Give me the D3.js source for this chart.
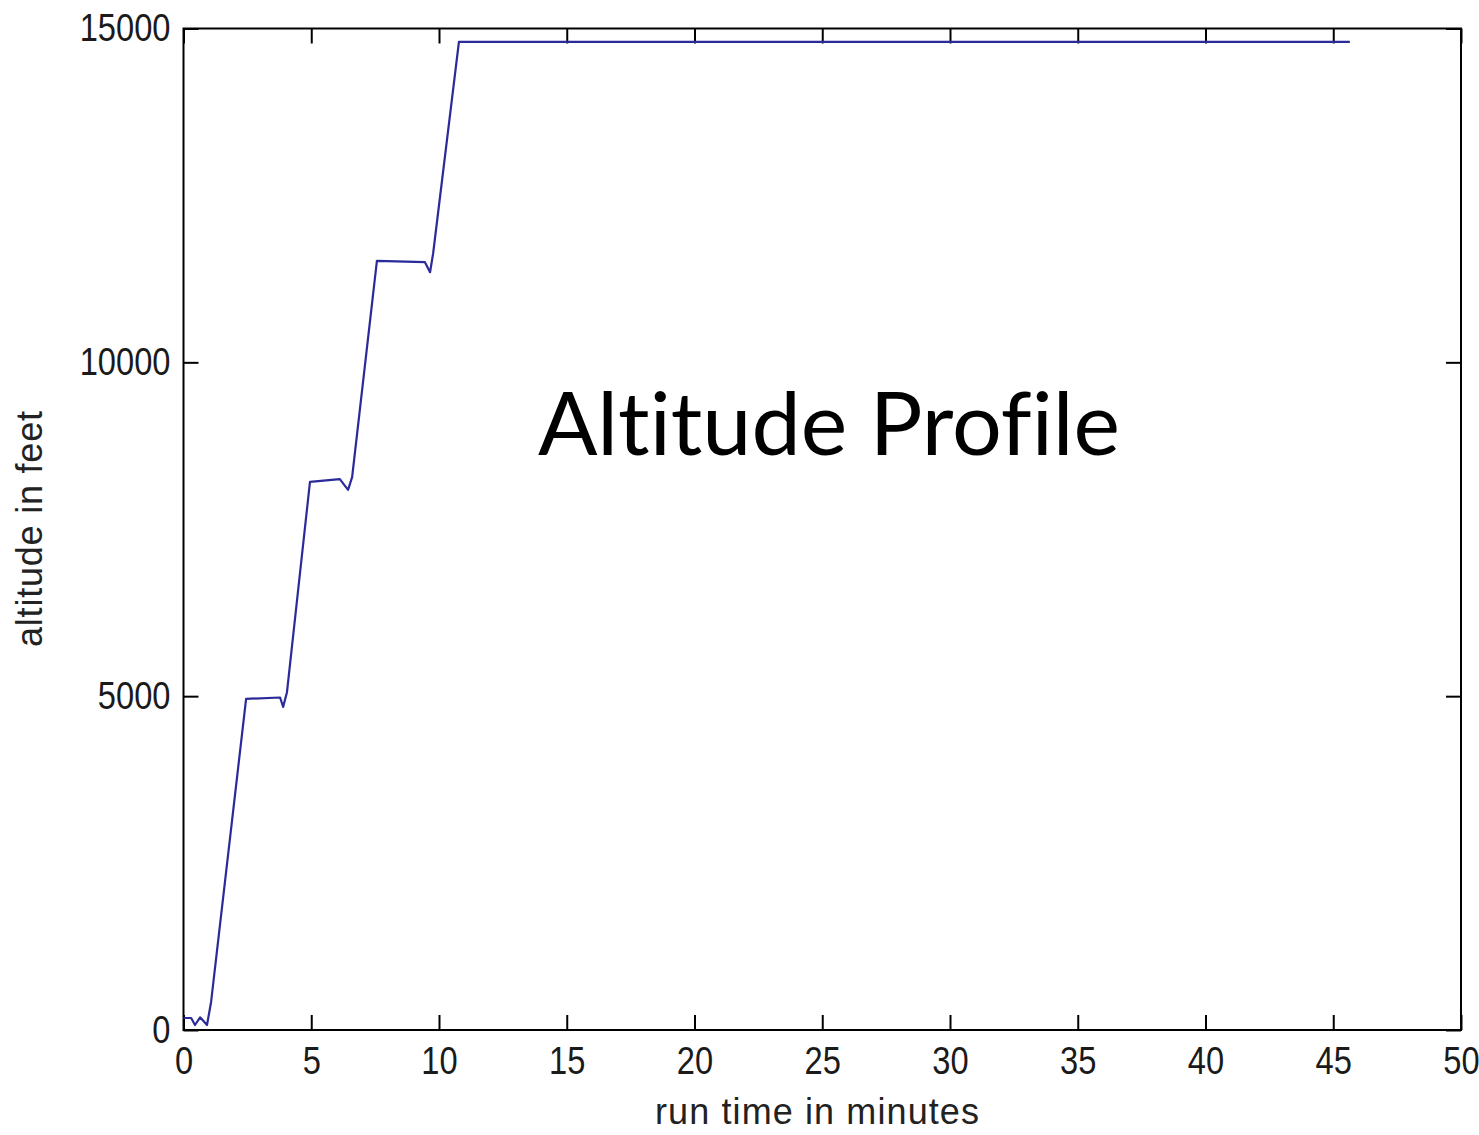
<!DOCTYPE html>
<html>
<head>
<meta charset="utf-8">
<script src="https://cdn.jsdelivr.net/npm/d3@7"></script>
<style>
  html, body { margin: 0; padding: 0; background: #ffffff; }
  svg { display: block; }
</style>
</head>
<body>
<svg id="chart" width="1479" height="1135"></svg>
<script>
// Flight run: time since start (minutes) and altitude (feet)
const timeMin = [0, 0.3, 0.45, 0.65, 0.92, 1.08, 2.45, 3.78, 3.9, 4.05, 4.95, 6.12, 6.44, 6.6, 7.57, 9.45, 9.65, 9.77, 10.78, 45.65];
const altitudeFt = [180, 180, 75, 190, 75, 420, 4960, 4980, 4840, 5060, 8210, 8250, 8090, 8280, 11520, 11500, 11350, 11630, 14800, 14800];

const xTicks = [0, 5, 10, 15, 20, 25, 30, 35, 40, 45, 50];
const yTicks = [0, 5000, 10000, 15000];

const titleText = "Altitude Profile";
const xLabel = "run time in minutes";
const yLabel = "altitude in feet";

const svg = d3.select("#chart");
const plot = { left: 183.5, right: 1461, top: 28.5, bottom: 1030 };

const x = d3.scaleLinear().domain([0, 50]).range([plot.left, plot.right]);
const y = d3.scaleLinear().domain([0, 15000]).range([plot.bottom, plot.top]);

const tickLen = 15;
const tickFont = "'Liberation Sans', Arial, sans-serif";
const fmt = d3.format("d");

// Axes with inward ticks on all four sides
const axisGroups = [
  svg.append("g").attr("transform", `translate(0,${plot.bottom})`)
    .call(d3.axisBottom(x).tickValues(xTicks).tickFormat(fmt).tickSizeInner(-tickLen).tickSizeOuter(0).tickPadding(17)),
  svg.append("g").attr("transform", `translate(0,${plot.top})`)
    .call(d3.axisTop(x).tickValues(xTicks).tickSizeInner(-tickLen).tickSizeOuter(0).tickFormat("")),
  svg.append("g").attr("transform", `translate(${plot.left},0)`)
    .call(d3.axisLeft(y).tickValues(yTicks).tickFormat(fmt).tickSizeInner(-tickLen).tickSizeOuter(0).tickPadding(13)),
  svg.append("g").attr("transform", `translate(${plot.right},0)`)
    .call(d3.axisRight(y).tickValues(yTicks).tickSizeInner(-tickLen).tickSizeOuter(0).tickFormat(""))
];
axisGroups.forEach(g => {
  g.select(".domain").remove();
  g.selectAll(".tick line").attr("stroke", "#000").attr("stroke-width", 2);
  g.selectAll(".tick text")
    .attr("fill", "#1a1a1a")
    .style("font-family", tickFont)
    .style("font-size", "38px");
});

// Narrow, tall digits: squeeze labels horizontally around their anchor
axisGroups[0].selectAll(".tick text")
  .attr("transform", function () { return `translate(0,${this.getAttribute("y")}) scale(0.86,1) translate(0,${-this.getAttribute("y")})`; });
axisGroups[2].selectAll(".tick text")
  .attr("transform", function () { const tx = +this.getAttribute("x"); return `translate(${tx},0) scale(0.86,1) translate(${-tx},0)`; });

// Box around the plot
svg.append("rect")
  .attr("x", plot.left).attr("y", plot.top)
  .attr("width", plot.right - plot.left)
  .attr("height", plot.bottom - plot.top)
  .attr("fill", "none")
  .attr("stroke", "#000")
  .attr("stroke-width", 2);

// Altitude trace
const line = d3.line()
  .x((d, i) => x(timeMin[i]))
  .y(d => y(d));

svg.append("path")
  .datum(altitudeFt)
  .attr("d", line)
  .attr("fill", "none")
  .attr("stroke", "#2a2a9a")
  .attr("stroke-width", 2.2)
  .attr("stroke-linejoin", "round");

// Axis titles
svg.append("text")
  .attr("x", 817).attr("y", 1124)
  .attr("text-anchor", "middle")
  .attr("fill", "#222")
  .style("font-family", tickFont)
  .style("font-size", "36px")
  .attr("textLength", 324)
  .text(xLabel);

svg.append("text")
  .attr("transform", "translate(42,529) rotate(-90)")
  .attr("text-anchor", "middle")
  .attr("fill", "#222")
  .style("font-family", tickFont)
  .style("font-size", "36px")
  .attr("textLength", 236)
  .text(yLabel);

// Chart title inside the plot area
svg.append("text")
  .attr("x", 829).attr("y", 455)
  .attr("text-anchor", "middle")
  .attr("fill", "#000")
  .style("font-family", "Lato, 'Open Sans', sans-serif")
  .style("font-size", "88px")
  .style("font-variant-ligatures", "none")
  .text(titleText);
</script>
</body>
</html>
